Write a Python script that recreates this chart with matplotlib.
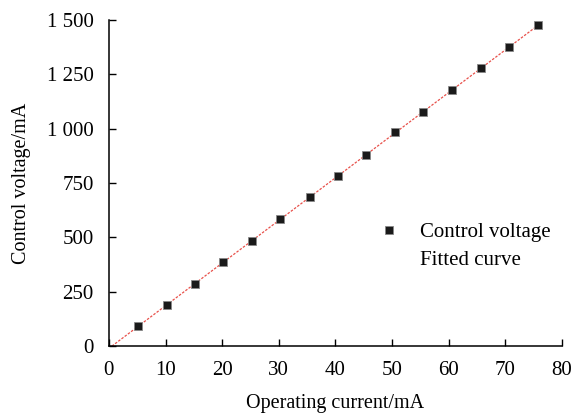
import matplotlib
matplotlib.use("Agg")
import matplotlib.pyplot as plt
import numpy as np
from matplotlib.ticker import FuncFormatter

plt.rcParams['font.family'] = ['Liberation Serif', 'DejaVu Serif']

current = [5.1, 10.2, 15.2, 20.1, 25.3, 30.2, 35.5, 40.5, 45.4, 50.5, 55.5, 60.6, 65.7, 70.7, 75.8]
voltage = [92, 189, 285, 386, 483, 584, 686, 782, 879, 985, 1077, 1178, 1279, 1376, 1477]

x_ticks = [0, 10, 20, 30, 40, 50, 60, 70, 80]
y_ticks = [0, 250, 500, 750, 1000, 1250, 1500]

# linear fit of the measured points
k, b = np.polyfit(current, voltage, 1)
xf = np.linspace(-b / k, 76.3, 50)

fig = plt.figure(figsize=(5.73, 4.17), dpi=100)
ax = fig.add_axes([0.190, 0.170, 0.791, 0.782])

line, = ax.plot(xf, k * xf + b, color='#e8504a', lw=0.9, ls=(0, (2, 1.2)), zorder=2)
pts, = ax.plot(current, voltage, ls='none', marker='s', ms=5.5, mfc='#1a1a1a', mec='#888888', mew=0.6,
               zorder=3)

ax.set_xlim(0, 80)
ax.set_ylim(0, 1500)
ax.set_xticks(x_ticks)
ax.set_yticks(y_ticks)
ax.yaxis.set_major_formatter(FuncFormatter(lambda v, p: f"{int(v):,}".replace(',', ' ')))
ax.tick_params(direction='in', length=5, width=1, labelsize=15)
ax.tick_params(axis='x', pad=11)
ax.tick_params(axis='y', pad=11)
for s in ['top', 'right']:
    ax.spines[s].set_visible(False)
for s in ['left', 'bottom']:
    ax.spines[s].set_linewidth(1.1)

ax.set_xlabel('Operating current/mA', fontsize=14.5, labelpad=10)
ax.set_ylabel('Control voltage/mA', fontsize=14.5, labelpad=11)

# the fitted-curve handle is not visible in the original legend
blank, = ax.plot([], [], color='none')
ax.legend([pts, blank], ['Control voltage', 'Fitted curve'], loc='center left',
          bbox_to_anchor=(0.553, 0.305), frameon=False, fontsize=15, handlelength=1.0,
          handletextpad=1.0, labelspacing=0.4)

fig.savefig('out.png', dpi=100)
